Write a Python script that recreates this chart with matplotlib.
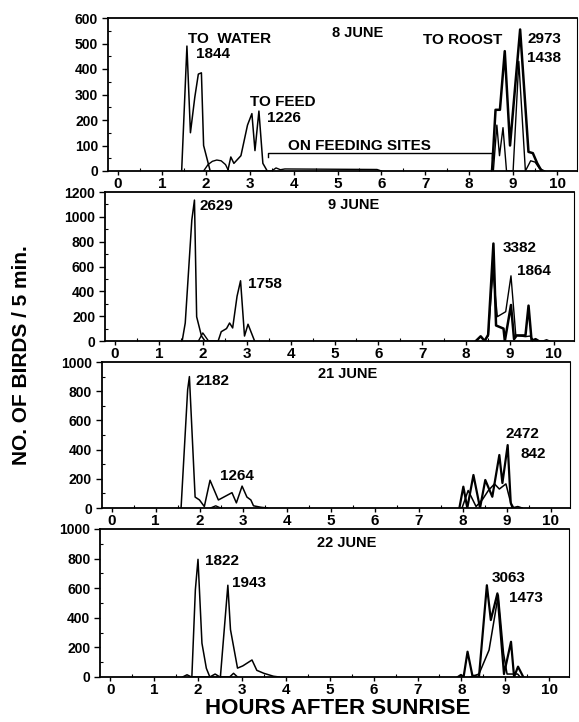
import matplotlib
matplotlib.use("Agg")
import matplotlib.pyplot as plt
from matplotlib.ticker import MultipleLocator

plt.rcParams['font.family'] = ['Liberation Sans', 'DejaVu Sans']
plt.rcParams['font.weight'] = 'bold'

# ---------------- data: birds per 5 min vs hours after sunrise ----------------
# 8 June
jun8_a_hours = [1.45, 1.57, 1.65, 1.75, 1.83, 1.90, 1.95, 2.10, 2.50, 2.57, 2.64, 2.72, 2.80,
                2.95, 3.05, 3.12, 3.21, 3.30, 3.40]
jun8_a_birds = [0, 490, 150, 290, 380, 385, 100, 0, 0, 55, 30, 45, 60,
                180, 225, 80, 235, 30, 0]
jun8_b_hours = [1.95, 2.05, 2.15, 2.25, 2.35, 2.45, 2.52, 3.50, 3.60, 3.70, 3.80, 5.90, 6.00]
jun8_b_birds = [0, 25, 38, 43, 40, 25, 0, 0, 12, 5, 8, 6, 0]
jun8_c_hours = [8.52, 8.60, 8.70, 8.81, 8.93, 9.16, 9.35, 9.45, 9.55, 9.65]
jun8_c_birds = [0, 240, 240, 470, 100, 555, 75, 70, 30, 0]
jun8_d_hours = [8.55, 8.63, 8.69, 8.77, 8.85, 9.00, 9.13, 9.28, 9.40, 9.50, 9.60, 9.72]
jun8_d_birds = [0, 180, 60, 170, 0, 0, 430, 0, 40, 35, 10, 0]

# 9 June
jun9_a_hours = [1.53, 1.60, 1.75, 1.81, 1.86, 1.97, 2.05, 2.35, 2.42, 2.54, 2.61, 2.68,
                2.78, 2.86, 2.95, 3.03, 3.18]
jun9_a_birds = [0, 145, 975, 1135, 195, 40, 0, 0, 75, 100, 145, 105,
                360, 485, 40, 135, 0]
jun9_b_hours = [1.90, 2.00, 2.13]
jun9_b_birds = [0, 65, 0]
jun9_c_hours = [8.22, 8.33, 8.42, 8.50, 8.62, 8.68, 8.85, 8.88, 9.02, 9.09, 9.15, 9.35,
                9.42, 9.49, 9.58, 9.65]
jun9_c_birds = [0, 38, 0, 50, 785, 125, 100, 0, 290, 15, 45, 45,
                285, 0, 15, 0]
jun9_d_hours = [8.40, 8.50, 8.61, 8.71, 8.90, 9.02, 9.13, 9.35, 9.45, 9.55, 9.75, 9.83, 9.90]
jun9_d_birds = [0, 40, 560, 196, 236, 525, 45, 35, 40, 0, 0, 10, 0]

# 21 June
jun21_a_hours = [1.58, 1.73, 1.77, 1.90, 2.00, 2.11, 2.24, 2.43, 2.74, 2.84, 2.97, 3.08,
                 3.17, 3.23, 3.40, 3.55]
jun21_a_birds = [0, 810, 900, 75, 55, 10, 190, 55, 105, 35, 150, 75,
                 55, 15, 5, 0]
jun21_b_hours = [2.25, 2.37, 2.48]
jun21_b_birds = [0, 15, 0]
jun21_c_hours = [7.92, 8.01, 8.10, 8.24, 8.39, 8.51, 8.67, 8.83, 8.90, 9.02, 9.09, 9.15]
jun21_c_birds = [0, 146, 0, 226, 0, 192, 77, 363, 171, 431, 34, 0]
jun21_d_hours = [7.98, 8.12, 8.30, 8.45, 8.58, 8.72, 8.83, 8.98, 9.12, 9.25, 9.35]
jun21_d_birds = [0, 120, 10, 60, 120, 165, 130, 165, 0, 10, 0]

# 22 June
jun22_a_hours = [1.86, 1.94, 2.00, 2.09, 2.19, 2.27, 2.39, 2.50, 2.72, 2.81, 2.90]
jun22_a_birds = [0, 590, 795, 228, 59, 0, 20, 0, 0, 25, 0]
jun22_b_hours = [1.65, 1.75, 1.85, 2.51, 2.68, 2.74, 2.90, 3.02, 3.23, 3.34, 3.50, 3.72, 3.85]
jun22_b_birds = [0, 15, 0, 0, 620, 320, 60, 75, 115, 45, 25, 5, 0]
jun22_c_hours = [7.92, 7.99, 8.05, 8.14, 8.25, 8.40, 8.58, 8.67, 8.82, 8.97, 9.13, 9.20,
                 9.29, 9.41]
jun22_c_birds = [0, 14, 0, 171, 10, 0, 620, 385, 565, 20, 238, 0, 70, 0]
jun22_d_hours = [8.20, 8.30, 8.40, 8.63, 8.84, 8.96, 9.04, 9.28, 9.34]
jun22_d_birds = [0, 10, 20, 182, 554, 160, 20, 20, 0]

day_labels = ["8 JUNE", "9 JUNE", "21 JUNE", "22 JUNE"]
y_max = [600, 1200, 1000, 1000]
y_step = [100, 200, 200, 200]
hour_ticks = list(range(0, 11))

# ---------------- layout (pixels of a 579 x 722 canvas) ----------------
W, H = 579, 722
PX_PER_HOUR = 43.9
XMIN, XMAX = -0.23, 10.45
zero_px = [118, 115, 111.7, 110.2]
tops = [18, 192, 362, 529]
bottoms = [171, 341, 508, 677]

fig = plt.figure(figsize=(W / 100, H / 100), dpi=100)

panels = [
    [(jun8_a_hours, jun8_a_birds, 1.1), (jun8_b_hours, jun8_b_birds, 1.0),
     (jun8_c_hours, jun8_c_birds, 1.8), (jun8_d_hours, jun8_d_birds, 1.0)],
    [(jun9_a_hours, jun9_a_birds, 1.1), (jun9_b_hours, jun9_b_birds, 1.0),
     (jun9_c_hours, jun9_c_birds, 1.8), (jun9_d_hours, jun9_d_birds, 1.0)],
    [(jun21_a_hours, jun21_a_birds, 1.1), (jun21_b_hours, jun21_b_birds, 1.0),
     (jun21_c_hours, jun21_c_birds, 1.6), (jun21_d_hours, jun21_d_birds, 1.1)],
    [(jun22_a_hours, jun22_a_birds, 1.1), (jun22_b_hours, jun22_b_birds, 1.1),
     (jun22_c_hours, jun22_c_birds, 1.6), (jun22_d_hours, jun22_d_birds, 1.1)],
]

# totals written beside the peaks: (text, hour, count)
annotations = [
    [("TO  WATER", 1.59, 502), ("1844", 1.78, 443), ("TO FEED", 3.0, 255),
     ("1226", 3.39, 192), ("ON FEEDING SITES", 3.87, 82), ("TO ROOST", 6.95, 498),
     ("2973", 9.32, 502), ("1438", 9.32, 427)],
    [("2629", 1.93, 1054), ("1758", 3.02, 427), ("3382", 8.82, 716), ("1864", 9.16, 531)],
    [("2182", 1.92, 842), ("1264", 2.47, 192), ("2472", 8.98, 479), ("842", 9.32, 342)],
    [("1822", 2.16, 757), ("1943", 2.78, 608), ("3063", 8.69, 642), ("1473", 9.08, 507)],
]
date_pos = [(4.87, 525), (4.86, 1062), (4.71, 890), (4.70, 879)]

for i in range(4):
    left = zero_px[i] + XMIN * PX_PER_HOUR
    width = (XMAX - XMIN) * PX_PER_HOUR
    ax = fig.add_axes([left / W, 1 - bottoms[i] / H, width / W, (bottoms[i] - tops[i]) / H])
    for hrs, cnt, lw in panels[i]:
        ax.plot(hrs, cnt, color="black", lw=lw, solid_joinstyle="round")
    ax.set_xlim(XMIN, XMAX)
    ax.set_ylim(0, y_max[i])
    ax.set_xticks(hour_ticks)
    ax.set_xticklabels([str(t) for t in hour_ticks])
    ax.xaxis.set_minor_locator(MultipleLocator(0.5))
    ax.set_yticks(list(range(0, y_max[i] + 1, y_step[i])))
    ax.yaxis.set_minor_locator(MultipleLocator(y_step[i] / 2))
    ax.tick_params(axis="x", which="major", direction="out", length=3, width=1,
                   labelsize=11, pad=1)
    ax.tick_params(axis="x", which="minor", direction="in", length=2, width=0.8)
    ax.tick_params(axis="y", which="major", direction="out", length=4, width=1,
                   labelsize=10, pad=3)
    ax.tick_params(axis="y", which="minor", direction="in", length=2.5, width=0.8)
    for lab in ax.get_xticklabels() + ax.get_yticklabels():
        lab.set_fontweight("bold")
    for side, sp in ax.spines.items():
        sp.set_linewidth(1.3 if side in ("left", "bottom", "top") else 0.8)
    for txt, hx, cy in annotations[i]:
        ax.text(hx, cy, txt, ha="left", va="baseline", fontsize=11, fontweight="bold")
    ax.text(date_pos[i][0], date_pos[i][1], day_labels[i], ha="left", va="baseline",
            fontsize=10.5, fontweight="bold")
    if i == 0:
        ax.plot([3.42, 3.42, 8.52, 8.52], [55, 72, 72, 50], color="black", lw=1.0)

fig.text(22 / W, 1 - 355 / H, "NO. OF BIRDS / 5 min.", rotation=90, ha="center",
         va="center", fontsize=15, fontweight="bold")
fig.text(338 / W, 1 - 709 / H, "HOURS AFTER SUNRISE", ha="center", va="center",
         fontsize=16, fontweight="bold")

fig.savefig("out.png", dpi=100)
